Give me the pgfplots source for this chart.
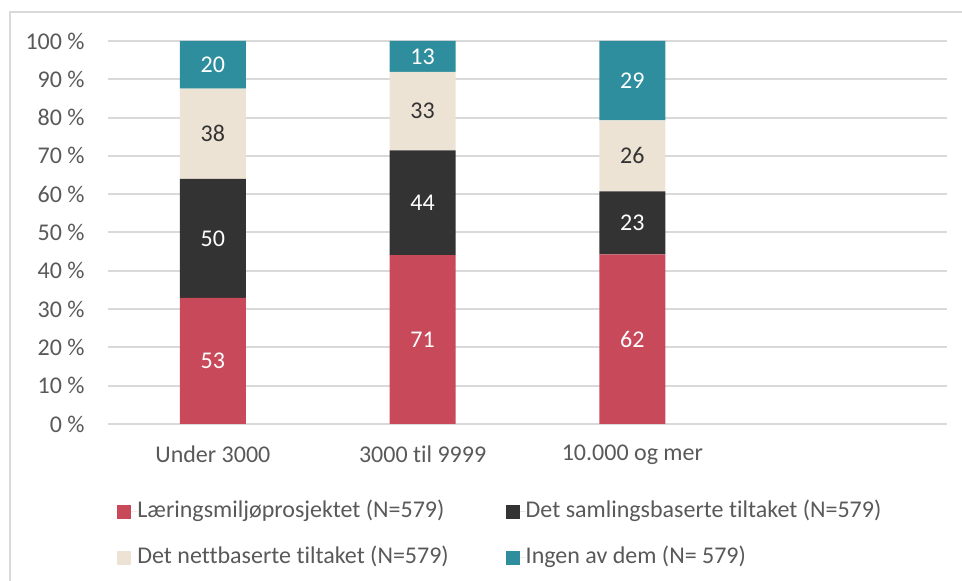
\documentclass[border=0pt]{standalone}
\usepackage{fontspec}
\setmainfont[Ligatures={NoCommon}]{Carlito}
\usepackage{pgfplots}
\usepackage{pgfplotstable}
\pgfplotsset{compat=1.18}
\definecolor{cred}{RGB}{200,74,90}
\definecolor{cdark}{RGB}{51,51,51}
\definecolor{cbeige}{RGB}{237,227,213}
\definecolor{cteal}{RGB}{46,142,158}
\definecolor{ctext}{RGB}{89,89,89}
\definecolor{cgrid}{RGB}{217,217,217}
% share (%) and count per category
\pgfplotstableread{
x y n
0 32.92 53
1 44.10 71
2 44.29 62
}\laering
\pgfplotstableread{
x y n
0 31.06 50
1 27.33 44
2 16.43 23
}\samling
\pgfplotstableread{
x y n
0 23.60 38
1 20.50 33
2 18.57 26
}\nett
\pgfplotstableread{
x y n
0 12.42 20
1 8.07 13
2 20.71 29
}\ingen
\begin{document}
\begin{tikzpicture}
\useasboundingbox (0,0) rectangle (481pt,290.5pt);
\draw[cgrid, line width=1pt] (5pt,0) -- (5pt,284.5pt) -- (481pt,284.5pt);
\begin{axis}[
  ybar stacked, bar width=33pt,
  scale only axis, width=419.5pt, height=191.5pt,
  at={(54pt,78.5pt)}, anchor=south west,
  xmin=-0.5, xmax=3.5, ymin=0, ymax=100,
  xtick={0,1,2}, xticklabels={Under 3000, 3000 til 9999, 10.000 og mer},
  ytick={0,10,...,100},
  yticklabel={\pgfmathprintnumber{\tick}\ \%},
  /pgf/number format/assume math mode=true,
  tick style={draw=none},
  axis line style={draw=none},
  ymajorgrids, grid style={cgrid, line width=1pt},
  font=\fontsize{12}{14}\selectfont,
  tick label style={text=ctext, font=\fontsize{12}{14}\selectfont},
  yticklabel style={anchor=east, inner sep=0pt, xshift=-11.5pt},
  xticklabel style={anchor=north, inner sep=0pt, yshift=-10.5pt},
  point meta=explicit,
  nodes near coords={\pgfmathprintnumber{\pgfplotspointmeta}},
  every node near coord/.append style={anchor=center, inner sep=0pt, text=white, font=\fontsize{12}{14}\selectfont},
  legend columns=2,
  legend cell align=left,
  legend style={draw=none, fill=none, inner sep=0pt, at={(0.0107,-0.2)}, anchor=north west,
     row sep=12pt,
     /tikz/every even column/.append style={column sep=28.5pt},
     nodes={inner sep=0pt, text height=8.5pt, text depth=2.5pt, text=ctext, font=\fontsize{12}{14}\selectfont}},
  legend image code/.code={\fill[#1,draw=none] (0pt,-3.5pt) rectangle (7pt,3.5pt); \path (0pt,0pt) -- (10pt,0pt);},
]
\addplot[fill=cred, draw=none] table[x=x, y=y, meta=n] {\laering};
\addplot[fill=cdark, draw=none] table[x=x, y=y, meta=n] {\samling};
\addplot[fill=cbeige, draw=none, nodes near coords style={text=cdark}] table[x=x, y=y, meta=n] {\nett};
\addplot[fill=cteal, draw=none] table[x=x, y=y, meta=n] {\ingen};
\legend{Læringsmiljøprosjektet (N=579), Det samlingsbaserte tiltaket (N=579), Det nettbaserte tiltaket (N=579), Ingen av dem (N= 579)}
\end{axis}
\end{tikzpicture}
\end{document}
